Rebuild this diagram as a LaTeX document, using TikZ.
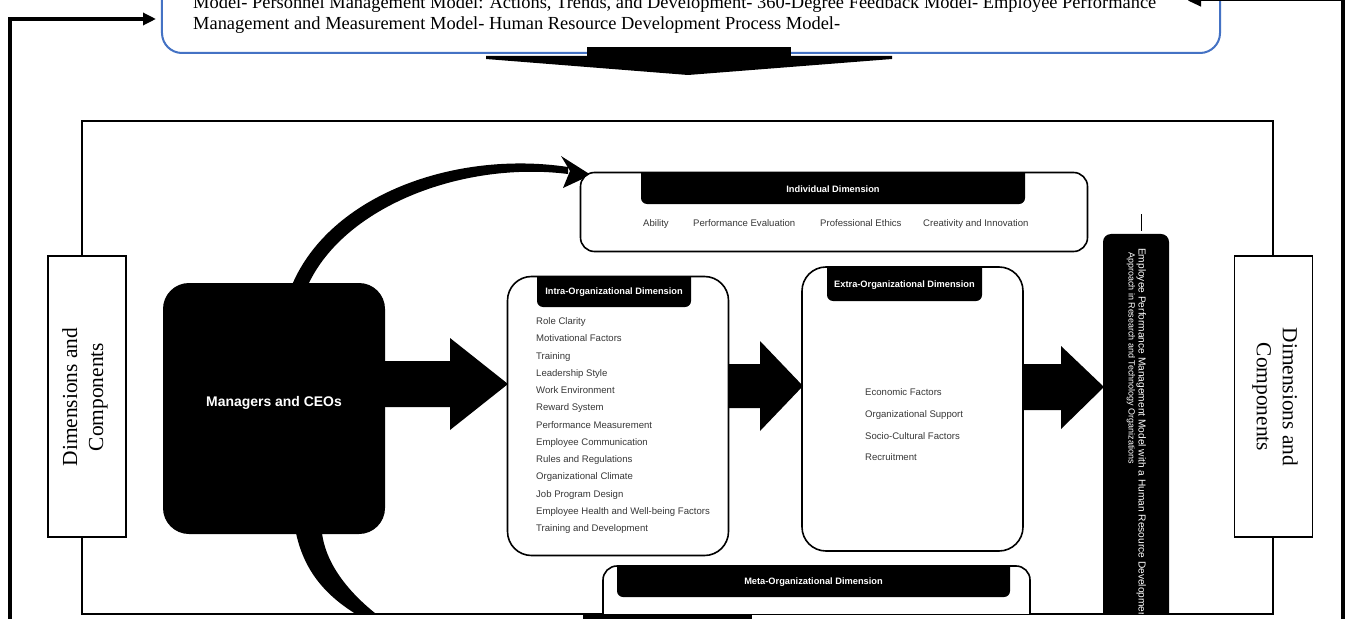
\documentclass[tikz,border=0pt]{standalone}
\usepackage{fontspec}
\setmainfont{Liberation Serif}
\newfontfamily\insans{Liberation Sans}
\usetikzlibrary{arrows.meta}
\definecolor{boxblue}{RGB}{68,114,196}
\definecolor{itemgray}{RGB}{55,55,55}
\newcommand\hdrtab[4]{%
  \begin{scope}\clip (#1-1,#2) rectangle (#3+1,#4+1);
  \fill[black,rounded corners=6bp] (#1,#2-12) rectangle (#3,#4);\end{scope}}
\begin{document}
\begin{tikzpicture}[x=1bp,y=-1bp,
  outer/.style={line width=3.2bp},
  toptext/.style={font=\fontsize{18.5}{21}\selectfont, anchor=base west, inner sep=0},
  inbox/.style={draw=black, line width=1.6bp, fill=white, inner sep=0},
  hdr/.style={text=white, font=\insans\bfseries\fontsize{9.3}{10}\selectfont, inner sep=0},
  item/.style={text=itemgray, font=\insans\fontsize{9.6}{11}\selectfont, anchor=base west, inner sep=0},
  dimbox/.style={draw=black, line width=1.5bp, fill=white, minimum width=78bp, minimum height=281bp, inner sep=0},
  dimtext/.style={font=\fontsize{21.5}{26}\selectfont, align=center, inner sep=0},
  bartext/.style={text=white, font=\insans\fontsize{9}{10}\selectfont, anchor=base west, inner sep=0, rotate=-90},
  blockarrow/.style={fill=black},
]
\useasboundingbox (0,0) rectangle (1348,619);
\fill[white] (0,0) rectangle (1348,619);

% ---- top model box
\node[draw=boxblue, line width=2bp, rounded corners=20bp, minimum width=1058bp, minimum height=100bp, inner sep=0] (models) at (691,3) {};
\node[toptext] (m1) at (193,8.5) {Model- Personnel Management Model: Actions, Trends, and Development- 360-Degree Feedback Model- Employee Performance};
\node[toptext] (m2) at (193,30) {Management and Measurement Model- Human Resource Development Process Model-};

% tapered down arrow
\fill (587,47) rectangle (791,58);
\fill (486,56) -- (892,56) -- (892,59) -- (688,75) -- (486,59) -- cycle;

% ---- outer feedback lines
\coordinate (lbot) at (10,630);
\coordinate (ltip) at (156,19);
\draw[outer, -{Triangle[length=13bp,width=12bp]}] (lbot) |- (ltip);
\coordinate (rbot) at (1343,630);
\coordinate (rtop) at (1343,-5);
\draw[line width=3.5bp] (rbot) -- (rtop);
\coordinate (rcorner) at (1343,0.5);
\coordinate (rtip) at (1188,0.5);
\draw[line width=1bp, -{Triangle[length=13bp,width=12bp]}] (rcorner) -- (rtip);

% ---- main frame
\node[draw=black, line width=2bp, minimum width=1191bp, minimum height=493bp, inner sep=0] (frame) at (677.5,367.5) {};

\begin{scope}
\clip (83,122) rectangle (1272,613);

% curved arrows from managers
\fill (292,285) .. controls (330,195) and (455,150) .. (568,167) -- (568,174) .. controls (465,161) and (345,205) .. (308,285) -- cycle;
\fill (561,156) -- (591,175) -- (563,188) -- (570,171) -- cycle;
\fill (296,533) .. controls (305,575) and (330,600) .. (366,620) -- (384,620) .. controls (350,595) and (326,565) .. (322,533) -- cycle;

% managers
\node[fill=black, rounded corners=26bp, minimum width=222bp, minimum height=251bp, inner sep=0] (mgr) at (274,408.5) {};
\node[text=white, font=\insans\bfseries\fontsize{14}{16}\selectfont, inner sep=0] (mgrt) at (274,403) {Managers and CEOs};

% individual dimension
\node[inbox, rounded corners=14bp, minimum width=507bp, minimum height=79bp] (indiv) at (834,212) {};
\hdrtab{641}{173}{1025}{204}
\node[hdr] (indivh) at (833,189) {Individual Dimension};
\node[item] (i1) at (643,226) {Ability};
\node[item] (i2) at (693,226) {Performance Evaluation};
\node[item] (i3) at (820,226) {Professional Ethics};
\node[item] (i4) at (923,226) {Creativity and Innovation};

% intra
\node[inbox, rounded corners=24bp, minimum width=221bp, minimum height=279bp] (intra) at (618,416) {};
\hdrtab{537}{277}{691}{307}
\node[hdr] (intrah) at (614,292) {Intra-Organizational Dimension};
\foreach \t [count=\k from 0] in {Role Clarity, Motivational Factors, Training, Leadership Style, Work Environment, Reward System, Performance Measurement, Employee Communication, Rules and Regulations, Organizational Climate, Job Program Design, Employee Health and Well-being Factors, Training and Development}
  \node[item] (ia\k) at (536,324.5+17.27*\k) {\t};

% extra
\node[inbox, rounded corners=24bp, minimum width=221bp, minimum height=284bp] (extra) at (912.5,409) {};
\hdrtab{827}{268}{982}{301}
\node[hdr] (extrah) at (904.5,285) {Extra-Organizational Dimension};
\node[item] (e1) at (865,395.5) {Economic Factors};
\node[item] (e2) at (865,417.5) {Organizational Support};
\node[item] (e3) at (865,439.5) {Socio-Cultural Factors};
\node[item] (e4) at (865,460.5) {Recruitment};

% meta
\node[inbox, rounded corners=14bp, minimum width=427bp, minimum height=120bp] (meta) at (816.5,626) {};
\hdrtab{617}{567}{1010}{597}
\node[hdr] (metah) at (813.5,582) {Meta-Organizational Dimension};

% result bar
\node[fill=black, rounded corners=8bp, minimum width=66bp, minimum height=420bp, inner sep=0] (bar) at (1136,444) {};
\node[bartext, font=\insans\fontsize{10.2}{11}\selectfont] (b1) at (1138.5,248) {Employee Performance Management Model with a Human Resource Development};
\node[bartext] (b2) at (1128.5,252) {Approach in Research and Technology Organizations};
\draw[line width=0.8bp] (1141,214) -- (1141,231);

% block arrows
\fill[blockarrow] (385,361) -- (450,361) -- (450,338) -- (508,384) -- (450,430) -- (450,407) -- (385,407) -- cycle;
\fill[blockarrow] (728,364) -- (760,364) -- (760,341) -- (803,386) -- (760,431) -- (760,408) -- (728,408) -- cycle;
\fill[blockarrow] (1023,364) -- (1061,364) -- (1061,346) -- (1104,387) -- (1061,429) -- (1061,410) -- (1023,410) -- cycle;
\end{scope}

% block below the frame
\fill (583,614) rectangle (752,625);

% dimension boxes
\node[dimbox] (dimL) at (87,396.5) {};
\node[dimtext, rotate=90] (dimLt) at (85,397) {Dimensions and\\Components};
\node[dimbox] (dimR) at (1273.5,396.5) {};
\node[dimtext, rotate=-90] (dimRt) at (1275,397) {Dimensions and\\Components};
\end{tikzpicture}
\end{document}
